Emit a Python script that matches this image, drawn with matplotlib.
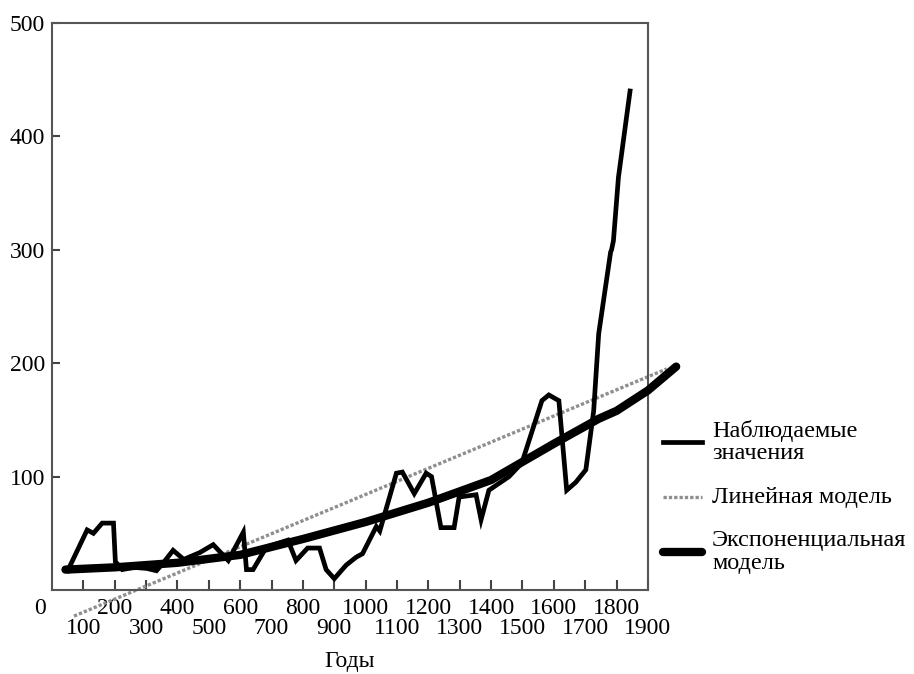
#!/usr/bin/env python3
"""Observed values vs. linear and exponential models, years 0-1900."""

import matplotlib

matplotlib.use("Agg")
import matplotlib.pyplot as plt
from matplotlib.lines import Line2D
from matplotlib.ticker import FixedLocator

plt.rcParams["font.family"] = ["Liberation Serif", "DejaVu Serif"]

# observed series (year, value)
obs_years = [50, 112, 132, 160, 196, 202, 224, 260, 303, 333, 355, 386, 420,
             471, 514, 562, 610, 620, 641, 684, 752, 778, 815, 853, 874, 900,
             938, 970, 990, 1034, 1045, 1098, 1117, 1155, 1193, 1210, 1240,
             1282, 1298, 1352, 1368, 1393, 1457, 1498, 1562, 1584, 1616,
             1641, 1670, 1702, 1727, 1743, 1781, 1784, 1790, 1806, 1843]
obs_values = [17, 53, 50, 59, 59, 25, 18, 20, 19, 17, 24, 35, 27,
              33, 40, 26, 51, 18, 18, 38, 44, 26, 37, 37, 18, 10,
              22, 29, 32, 56, 52, 103, 104, 85, 103, 100, 55,
              55, 82, 84, 62, 88, 100, 112, 167, 172, 167,
              88, 95, 106, 158, 226, 298, 300, 308, 364, 440]

# linear model end points
lin_years = [70, 1960]
lin_values = [-23, 195]

# exponential model
exp_years = [43, 200, 400, 600, 800, 1000, 1200, 1400, 1600, 1743, 1800,
             1900, 1990]
exp_values = [18, 20, 24, 31, 45, 60, 77, 97, 129, 151, 158, 176, 197]

major_ticks = list(range(200, 1900, 200))
minor_ticks = list(range(100, 2000, 200))
y_ticks = [100, 200, 300, 400, 500]

legend_labels = ["Наблюдаемые\nзначения", "Линейная модель",
                 "Экспоненциальная\nмодель"]

W, H = 914, 674
fig = plt.figure(figsize=(W / 100, H / 100), dpi=100)
ax = fig.add_axes([0.0569, 0.1246, 0.652, 0.8413])

obs_style = dict(color="black", lw=3.4, solid_joinstyle="miter")
lin_style = dict(color="#8f8f8f", lw=2.4, linestyle=(0, (1, 0.6)))
exp_style = dict(color="black", lw=6, solid_capstyle="round")

ax.plot(lin_years, lin_values, clip_on=False, zorder=2, **lin_style)
ax.plot(exp_years, exp_values, clip_on=False, zorder=3, **exp_style)
ax.plot(obs_years, obs_values, zorder=4, **obs_style)

ax.set_xlim(0, 1900)
ax.set_ylim(0, 500)

for side in ax.spines.values():
    side.set_color("#555555")
    side.set_linewidth(1.5)

ax.xaxis.set_major_locator(FixedLocator(major_ticks))
ax.xaxis.set_minor_locator(FixedLocator(minor_ticks))
ax.set_xticklabels([str(t) for t in major_ticks])
ax.set_xticklabels([str(t) for t in minor_ticks], minor=True)
ax.tick_params(axis="x", which="major", direction="in", length=7, width=1.5,
               color="#444444", labelsize=17, pad=6)
ax.tick_params(axis="x", which="minor", direction="in", length=7, width=1.5,
               color="#444444", labelsize=17, pad=20)
ax.set_yticks(y_ticks)
ax.tick_params(axis="y", direction="in", length=6, width=1.5,
               color="#444444", labelsize=17, pad=5)

# shared origin label
ax.text(-38, -16, "0", fontsize=17, ha="center", va="center",
        clip_on=False)

ax.set_xlabel("Годы", fontsize=17, labelpad=9)

# legend to the right of the axes, in pixel positions of the figure
def fx(px):
    return px / W


def fy(py):
    return 1 - py / H


legend_rows = [442, 497, 552]
for row, label, style in zip(legend_rows, legend_labels,
                             [obs_style, lin_style, exp_style]):
    fig.add_artist(Line2D([fx(663), fx(702)], [fy(row), fy(row)],
                          transform=fig.transFigure, **style))
    fig.text(fx(712), fy(row), label, fontsize=17.5, ha="left", va="center",
             linespacing=1.12)

fig.savefig("out.png", dpi=100)
